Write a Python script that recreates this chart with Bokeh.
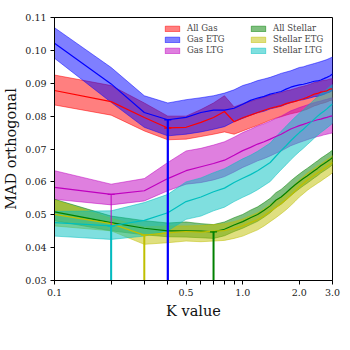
import numpy as np
from bokeh.plotting import figure
from bokeh.models import FixedTicker, CustomJSTickFormatter, PrintfTickFormatter, Legend, LegendItem
from bokeh.embed import file_html
from bokeh.resources import INLINE

K = [0.1, 0.2, 0.3, 0.4, 0.5, 0.6, 0.7, 0.8, 0.9, 1.0,
     1.1, 1.2, 1.3, 1.4, 1.5, 1.6, 1.7, 1.8, 1.9, 2.0,
     2.1, 2.2, 2.3, 2.4, 2.5, 2.6, 2.7, 2.8, 2.9, 3.0]

gas_all_mid = [.0878,.0844,.0796,.0764,.0766,.0781,.0796,.0814,.0783,.0795,.0803,.0811,.0818,.0824,.0828,.0832,.0838,.0842,.0845,.0849,.0853,.0857,.0862,.0867,.0869,.0873,.0875,.0877,.0882,.0883]
gas_all_hi = [.0925,.0893,.0840,.0800,.0800,.0820,.0840,.0862,.0828,.0838,.0845,.0852,.0858,.0864,.0868,.0872,.0877,.0880,.0884,.0888,.0891,.0894,.0898,.0902,.0904,.0907,.0909,.0910,.0913,.0914]
gas_all_lo = [.0834,.0803,.0755,.0728,.0730,.0738,.0745,.0752,.0745,.0755,.0764,.0772,.0780,.0788,.0794,.0798,.0803,.0807,.0810,.0813,.0817,.0821,.0826,.0831,.0834,.0838,.0840,.0843,.0847,.0849]

gas_etg_mid = [.1022,.0898,.0811,.0789,.0796,.0811,.0818,.0818,.0824,.0836,.0848,.0855,.0860,.0867,.0871,.0875,.0882,.0888,.0892,.0895,.0897,.0900,.0903,.0906,.0907,.0910,.0914,.0918,.0922,.0928]
gas_etg_hi = [.1069,.0948,.0862,.0840,.0850,.0856,.0862,.0870,.0880,.0893,.0900,.0908,.0913,.0918,.0924,.0930,.0934,.0938,.0943,.0948,.0950,.0954,.0957,.0960,.0963,.0966,.0969,.0972,.0976,.0980]
gas_etg_lo = [.0976,.0842,.0766,.0740,.0745,.0752,.0760,.0768,.0783,.0793,.0803,.0810,.0815,.0822,.0826,.0830,.0836,.0841,.0845,.0848,.0850,.0853,.0856,.0859,.0860,.0863,.0866,.0870,.0873,.0878]

gas_ltg_mid = [.0583,.0562,.0573,.0610,.0634,.0646,.0656,.0666,.0681,.0695,.0705,.0715,.0722,.0730,.0738,.0745,.0753,.0761,.0766,.0771,.0775,.0779,.0783,.0786,.0789,.0791,.0794,.0796,.0799,.0801]
gas_ltg_hi = [.0634,.0593,.0610,.0659,.0694,.0702,.0712,.0722,.0736,.0750,.0760,.0770,.0777,.0785,.0793,.0800,.0808,.0816,.0821,.0826,.0830,.0834,.0838,.0841,.0844,.0846,.0849,.0851,.0854,.0856]
gas_ltg_lo = [.0547,.0530,.0542,.0573,.0593,.0598,.0606,.0616,.0630,.0644,.0654,.0664,.0671,.0679,.0687,.0694,.0702,.0710,.0715,.0720,.0724,.0728,.0732,.0735,.0738,.0740,.0743,.0745,.0747,.0749]

stellar_all_mid = [.0509,.0476,.0459,.0451,.0451,.0450,.0448,.0456,.0469,.0479,.0491,.0501,.0514,.0527,.0544,.0554,.0567,.0580,.0591,.0601,.0610,.0618,.0626,.0634,.0641,.0649,.0655,.0661,.0667,.0674]
stellar_all_hi = [.0547,.0496,.0482,.0475,.0478,.0473,.0470,.0478,.0491,.0501,.0514,.0524,.0537,.0550,.0567,.0577,.0590,.0603,.0614,.0624,.0633,.0641,.0649,.0657,.0664,.0672,.0678,.0684,.0690,.0697]
stellar_all_lo = [.0482,.0451,.0439,.0433,.0432,.0430,.0428,.0436,.0449,.0459,.0470,.0480,.0493,.0506,.0522,.0532,.0545,.0558,.0569,.0579,.0588,.0596,.0604,.0612,.0619,.0627,.0633,.0639,.0645,.0652]

stellar_etg_mid = [.0501,.0473,.0438,.0445,.0449,.0447,.0450,.0452,.0458,.0466,.0476,.0485,.0497,.0510,.0522,.0534,.0546,.0559,.0572,.0585,.0595,.0605,.0613,.0620,.0627,.0633,.0640,.0646,.0652,.0659]
stellar_etg_hi = [.0545,.0489,.0463,.0466,.0466,.0467,.0470,.0473,.0479,.0487,.0497,.0506,.0518,.0531,.0543,.0555,.0567,.0580,.0593,.0606,.0616,.0626,.0634,.0641,.0648,.0654,.0661,.0667,.0673,.0680]
stellar_etg_lo = [.0466,.0451,.0410,.0415,.0420,.0418,.0420,.0422,.0428,.0435,.0445,.0454,.0466,.0479,.0491,.0503,.0515,.0528,.0541,.0554,.0564,.0574,.0582,.0589,.0596,.0602,.0609,.0615,.0621,.0628]

stellar_ltg_mid = [.0476,.0466,.0483,.0506,.0540,.0554,.0570,.0581,.0598,.0611,.0622,.0634,.0647,.0659,.0678,.0695,.0710,.0725,.0738,.0750,.0760,.0771,.0781,.0791,.0800,.0808,.0815,.0822,.0830,.0837]
stellar_ltg_hi = [.0510,.0512,.0537,.0562,.0600,.0612,.0628,.0640,.0656,.0670,.0681,.0693,.0706,.0718,.0737,.0754,.0769,.0784,.0797,.0809,.0819,.0830,.0840,.0850,.0859,.0867,.0874,.0881,.0889,.0896]
stellar_ltg_lo = [.0435,.0425,.0435,.0451,.0486,.0496,.0512,.0523,.0540,.0553,.0564,.0576,.0589,.0601,.0620,.0637,.0652,.0667,.0680,.0692,.0702,.0713,.0723,.0733,.0742,.0750,.0757,.0764,.0771,.0778]

names = ["All Gas", "Gas ETG", "Gas LTG", "All Stellar", "Stellar ETG", "Stellar LTG"]
colors = ["#ff0000", "#0000ff", "#bf00bf", "#008000", "#bfbf00", "#00bfbf"]
seg_widths = [1.0, 2.2, 1.0, 2.0, 2.0, 2.0]
mids = [gas_all_mid, gas_etg_mid, gas_ltg_mid, stellar_all_mid, stellar_etg_mid, stellar_ltg_mid]
his = [gas_all_hi, gas_etg_hi, gas_ltg_hi, stellar_all_hi, stellar_etg_hi, stellar_ltg_hi]
los = [gas_all_lo, gas_etg_lo, gas_ltg_lo, stellar_all_lo, stellar_etg_lo, stellar_ltg_lo]

x_ticks = [0.1, 0.2, 0.3, 0.4, 0.5, 0.6, 0.7, 0.8, 0.9, 1.0, 2.0, 3.0]
y_ticks = [0.03, 0.04, 0.05, 0.06, 0.07, 0.08, 0.09, 0.10, 0.11]

SERIF = "DejaVu Serif"

p = figure(width=342, height=342, x_axis_type="log", x_range=(0.1, 3.0), y_range=(0.03, 0.11),
           output_backend="svg", toolbar_location=None,
           min_border_left=52, min_border_right=10, min_border_top=17, min_border_bottom=62)
p.xgrid.visible = False
p.ygrid.visible = False
p.outline_line_color = "black"
p.outline_line_alpha = 1.0
p.outline_line_width = 1

items = []
for name, c, hi, lo in zip(names, colors, his, los):
    xs = list(K) + list(K)[::-1]
    ys = list(hi) + list(lo)[::-1]
    r = p.patch(xs, ys, fill_color=c, fill_alpha=0.5, line_color=c, line_alpha=0.5, line_width=1)
    items.append(LegendItem(label=name, renderers=[r]))

for c, m in zip(colors, mids):
    p.line(K, m, line_color=c, line_width=1.2)

for c, m, w in zip(colors, mids, seg_widths):
    i = int(np.argmin(m))
    p.segment(x0=[K[i]], y0=[y_ticks[0]], x1=[K[i]], y1=[m[i]], line_color=c, line_width=w)
    p.scatter([K[i]], [m[i]], marker="dash", size=7, line_color=c, line_width=1.4)

p.xaxis.ticker = FixedTicker(ticks=x_ticks)
p.xaxis.formatter = CustomJSTickFormatter(code="""
const lab = {"0.1": "0.1", "0.5": "0.5", "1": "1.0", "2": "2.0", "3": "3.0"};
const k = String(Math.round(tick * 10) / 10);
return (k in lab) ? lab[k] : "";
""")
p.yaxis.ticker = FixedTicker(ticks=y_ticks)
p.yaxis.formatter = PrintfTickFormatter(format="%.2f")

for ax in (p.xaxis, p.yaxis):
    ax.minor_tick_line_color = None
    ax.major_tick_in = 0
    ax.major_tick_out = 4
    ax.axis_line_color = "black"
    ax.major_tick_line_color = "black"
    ax.major_label_text_font = SERIF
    ax.major_label_text_font_size = "9.5px"
    ax.major_label_text_color = "#222222"
    ax.axis_label_text_font = SERIF
    ax.axis_label_text_font_size = "14.5px"
    ax.axis_label_text_font_style = "normal"
    ax.axis_label_text_color = "#111111"

p.xaxis.axis_label = "K value"
p.yaxis.axis_label = "MAD orthogonal"
p.xaxis.major_label_standoff = 4
p.xaxis.axis_label_standoff = 4
p.yaxis.major_label_standoff = 4
p.yaxis.axis_label_standoff = 3

def make_legend(its, loc):
    lg = Legend(items=its, location=loc)
    lg.label_text_font = SERIF
    lg.label_text_font_size = "8.5px"
    lg.glyph_width = 18
    lg.glyph_height = 7
    lg.label_height = 9
    lg.label_standoff = 6
    lg.spacing = 1
    lg.padding = 4
    lg.margin = 0
    lg.border_line_alpha = 0
    lg.background_fill_alpha = 0.8
    return lg

frame_h = 342 - 17 - 62
p.add_layout(make_legend(items[:3], (105, frame_h - 42)))
p.add_layout(make_legend(items[3:], (191, frame_h - 42)))

open("out.html", "w").write(file_html(p, INLINE))
